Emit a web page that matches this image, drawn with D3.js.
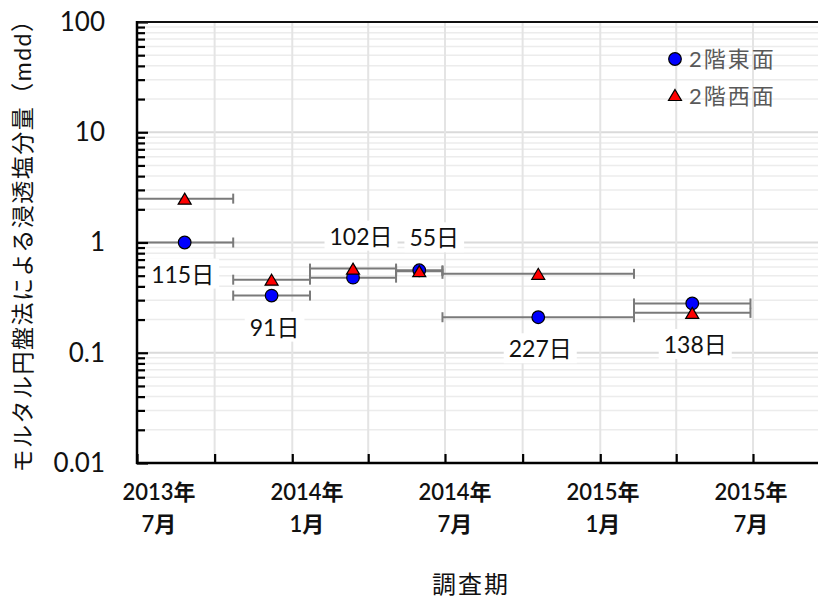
<!DOCTYPE html>
<html>
<head>
<meta charset="utf-8">
<script src="https://cdn.jsdelivr.net/npm/d3@7"></script>
<style>
  body { margin: 0; background: #fff; }
  svg { display: block; }
  text { font-family: Lato, "Noto Sans CJK JP", sans-serif; }
</style>
</head>
<body>
<svg id="chart" width="818" height="599"></svg>
<script>
// Survey periods: start date and length in days
const periodStart = ["2013-06-30", "2013-10-23", "2014-01-22", "2014-05-04", "2014-06-28", "2015-02-10"];
const periodDays = [115, 91, 102, 55, 227, 138];
// Chloride penetration measured by the mortar disc method (mdd)
const eastValues = [1.0, 0.33, 0.48, 0.56, 0.21, 0.28];
const westValues = [2.5, 0.46, 0.58, 0.55, 0.52, 0.23];
const seriesNames = ["2階東面", "2階西面"];
const yTickLabels = [0.01, 0.1, 1, 10, 100];
const xTickLabels = [["2013年", "7月"], ["2014年", "1月"], ["2014年", "7月"], ["2015年", "1月"], ["2015年", "7月"]];
const periodLabels = periodDays.map(d => d + "日");

// where each period label sits relative to its markers
const labelSide = ["below", "below", "above", "above", "below", "below"];
const labelShift = [-2, 3, 8, 15, 2, 3];

const svg = d3.select("#chart");
const plot = { left: 137, top: 22, bottom: 463, right: 830 };

const parse = d3.timeParse("%Y-%m-%d");
const starts = periodStart.map(parse);
const ends = starts.map((s, i) => d3.timeDay.offset(s, periodDays[i]));
const mids = starts.map((s, i) => new Date((s.getTime() + ends[i].getTime()) / 2));

const x = d3.scaleTime()
  .domain([new Date(2013, 6, 1), new Date(2015, 6, 1)])
  .range([plot.left, 753]);
const y = d3.scaleLog().domain([0.01, 100]).range([plot.bottom, plot.top]);

const xExt = d3.scaleTime().domain([x.invert(plot.left), x.invert(plot.right)]).range([plot.left, plot.right]);
const xTicks = xExt.ticks(d3.timeMonth.every(3)).filter(d => d.getMonth() % 3 === 0 && d >= x.domain()[0]);
const yAll = y.ticks();
const isMajor = v => Math.abs(Math.log10(v) - Math.round(Math.log10(v))) < 1e-9;

svg.append("defs").append("clipPath").attr("id", "plotclip")
  .append("rect").attr("x", plot.left).attr("y", plot.top - 10)
  .attr("width", plot.right - plot.left).attr("height", plot.bottom - plot.top + 10);

// gridlines
const grid = svg.append("g");
grid.selectAll("line.h").data(yAll).join("line")
  .attr("x1", plot.left).attr("x2", plot.right)
  .attr("y1", d => y(d)).attr("y2", d => y(d))
  .attr("stroke", d => isMajor(d) ? "#dadada" : "#ececec")
  .attr("stroke-width", d => isMajor(d) ? 2 : 1.5);
grid.selectAll("line.v").data(xTicks).join("line")
  .attr("x1", d => x(d)).attr("x2", d => x(d))
  .attr("y1", plot.top).attr("y2", plot.bottom)
  .attr("stroke", "#e4e4e4").attr("stroke-width", 2);

// error bars spanning each survey period
const bars = svg.append("g").attr("clip-path", "url(#plotclip)");
[eastValues, westValues].forEach(vals => {
  vals.forEach((v, i) => {
    const yy = y(v);
    bars.append("line").attr("x1", x(starts[i])).attr("x2", x(ends[i]))
      .attr("y1", yy).attr("y2", yy).attr("stroke", "#7a7a7a").attr("stroke-width", 2);
    [starts[i], ends[i]].forEach(d => {
      bars.append("line").attr("x1", x(d)).attr("x2", x(d))
        .attr("y1", yy - 5).attr("y2", yy + 5).attr("stroke", "#7a7a7a").attr("stroke-width", 2);
    });
  });
});

const tri = (cx, cy) => `M${cx},${cy - 6.5}L${cx + 6.5},${cy + 4.5}L${cx - 6.5},${cy + 4.5}Z`;

// markers
svg.append("g").selectAll("circle").data(eastValues).join("circle")
  .attr("cx", (d, i) => x(mids[i])).attr("cy", d => y(d)).attr("r", 6.3)
  .attr("fill", "#0000ff").attr("stroke", "#000").attr("stroke-width", 1.2);
svg.append("g").selectAll("path").data(westValues).join("path")
  .attr("d", (d, i) => tri(x(mids[i]), y(d) + 1))
  .attr("fill", "#ff0000").attr("stroke", "#000").attr("stroke-width", 1.2).attr("stroke-linejoin", "miter");

// axes: inward tick marks
const yMinorAxis = d3.axisRight(y).tickValues(yAll.filter(v => !isMajor(v))).tickSize(8).tickFormat("");
const yMajorAxis = d3.axisRight(y).tickValues(yTickLabels).tickSize(11).tickFormat("");
[yMinorAxis, yMajorAxis].forEach(ax => {
  const g = svg.append("g").attr("transform", `translate(${plot.left},0)`).call(ax);
  g.select(".domain").remove();
  g.selectAll(".tick line").attr("stroke", "#000").attr("stroke-width", 2.2);
});
const xTickAxis = d3.axisTop(xExt).tickValues(xTicks).tickSize(9).tickFormat("");
const gxt = svg.append("g").attr("transform", `translate(0,${plot.bottom})`).call(xTickAxis);
gxt.select(".domain").remove();
gxt.selectAll(".tick line").attr("stroke", "#000").attr("stroke-width", 2.2);

// y labels
const gyl = svg.append("g").attr("transform", `translate(${plot.left},0)`)
  .call(d3.axisLeft(y).tickValues(yTickLabels).tickSize(0).tickPadding(32).tickFormat(d => String(d)));
gyl.select(".domain").remove();
gyl.selectAll("text").attr("font-size", 26).attr("fill", "#111")
  .style("font-family", "Lato, sans-serif");

// frame lines
svg.append("line").attr("x1", plot.left).attr("x2", plot.right).attr("y1", plot.top).attr("y2", plot.top)
  .attr("stroke", "#111").attr("stroke-width", 2);
svg.append("line").attr("x1", plot.left).attr("x2", plot.left).attr("y1", plot.top - 1).attr("y2", plot.bottom + 1)
  .attr("stroke", "#000").attr("stroke-width", 2.5);
svg.append("line").attr("x1", plot.left - 1).attr("x2", plot.right).attr("y1", plot.bottom).attr("y2", plot.bottom)
  .attr("stroke", "#000").attr("stroke-width", 2.5);

// x labels (two lines each)
const xl = d3.scalePoint().domain(d3.range(xTickLabels.length)).range([159, 751]);
const gxl = svg.append("g");
xTickLabels.forEach((lines, i) => {
  const t = gxl.append("text").attr("text-anchor", "middle").attr("font-size", 22)
    .attr("font-weight", 600).attr("fill", "#111");
  lines.forEach((s, j) => t.append("tspan").attr("x", xl(i)).attr("y", 500 + j * 32).text(s));
});

// axis titles
svg.append("text").attr("x", 471).attr("y", 593).attr("text-anchor", "middle")
  .attr("font-size", 24).attr("fill", "#111").attr("letter-spacing", 2).text("調査期");
svg.append("text").attr("transform", "translate(31,240) rotate(-90)").attr("text-anchor", "middle")
  .attr("font-size", 23).attr("letter-spacing", 1.5).attr("fill", "#111").text("モルタル円盤法による浸透塩分量（mdd）");

// period length labels with white backing
const gl = svg.append("g");
periodLabels.forEach((s, i) => {
  const ye = y(eastValues[i]), yw = y(westValues[i]);
  const cy = labelSide[i] === "below" ? Math.max(ye, yw) + 32 : Math.min(ye, yw) - 32;
  const cx = x(mids[i]) + labelShift[i];
  const g = gl.append("g");
  const t = g.append("text").attr("x", cx).attr("y", cy).attr("dy", "0.35em")
    .attr("text-anchor", "middle").attr("font-size", 23).attr("fill", "#111").text(s);
  const bb = t.node().getBBox();
  g.insert("rect", "text").attr("x", bb.x - 5).attr("y", bb.y - 1)
    .attr("width", bb.width + 10).attr("height", bb.height + 2).attr("fill", "#fff");
});

// legend
const lg = svg.append("g");
lg.append("circle").attr("cx", 675).attr("cy", 59).attr("r", 6.3)
  .attr("fill", "#0000ff").attr("stroke", "#000").attr("stroke-width", 1.2);
lg.append("path").attr("d", tri(675, 96))
  .attr("fill", "#ff0000").attr("stroke", "#000").attr("stroke-width", 1.2);
seriesNames.forEach((s, i) => {
  lg.append("text").attr("x", 689).attr("y", 59 + i * 37).attr("dy", "0.36em")
    .attr("font-size", 22).attr("letter-spacing", 2).attr("fill", "#595959").text(s);
});
</script>
</body>
</html>
